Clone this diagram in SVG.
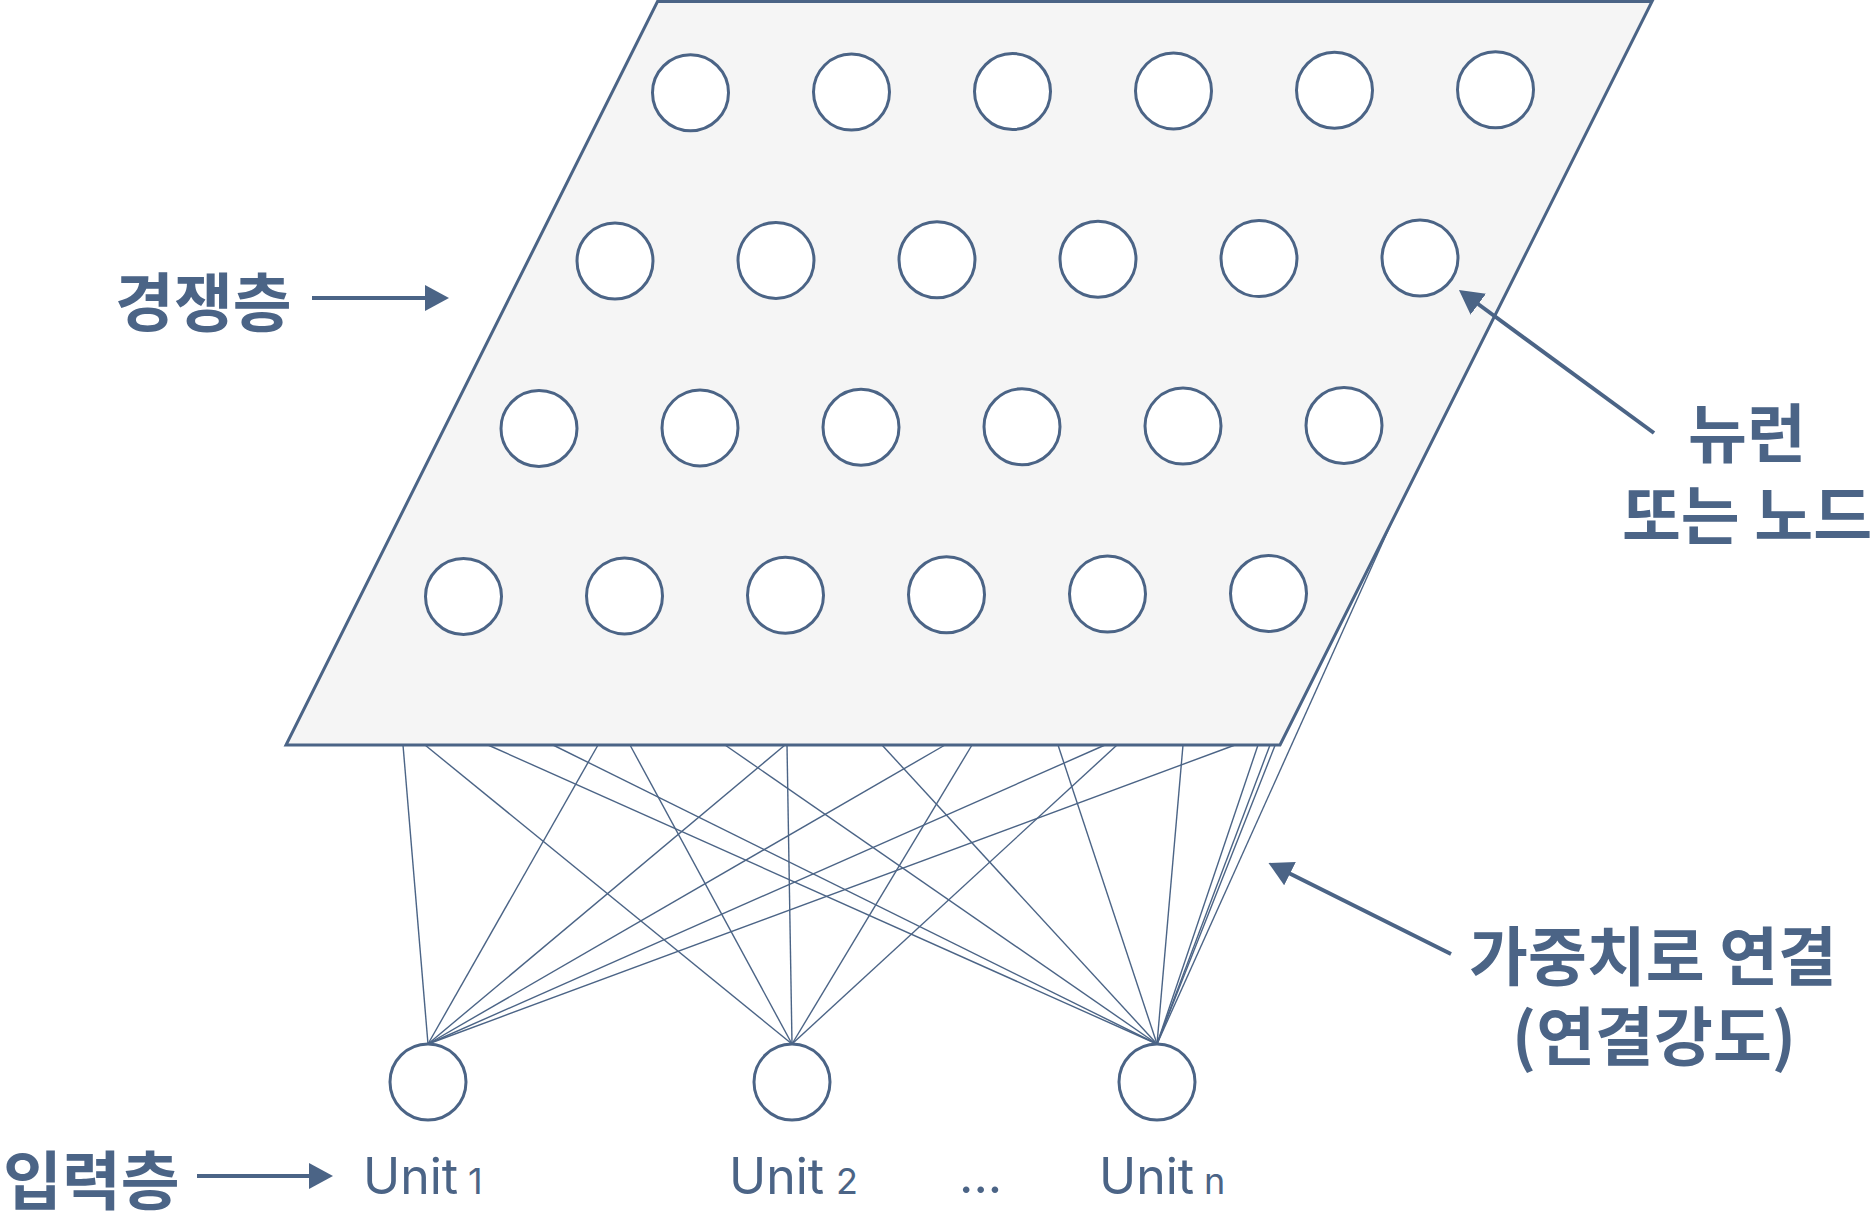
<svg xmlns="http://www.w3.org/2000/svg" width="1874" height="1217" viewBox="0 0 1874 1217">
<defs>
<style>
.ko{font-family:"Noto Sans CJK KR","Noto Sans",sans-serif;font-weight:700;font-size:64px;fill:#4b6486}
.en{font-family:Inter,"Noto Sans",sans-serif;font-weight:400;font-size:50px;fill:#4b6486}
.sub{font-size:36px}
.nd{fill:#ffffff;stroke:#4b6486;stroke-width:3}
.cn line{stroke:#4b6486;stroke-width:1.4}
.arr{stroke:#4b6486;stroke-width:4;fill:none}
</style>
<marker id="ah" markerUnits="userSpaceOnUse" viewBox="0 0 24 26" markerWidth="24" markerHeight="26" refX="2" refY="13" orient="auto"><path d="M0,0 L24,13 L0,26 z" fill="#4b6486"/></marker>
</defs>
<rect width="1874" height="1217" fill="#ffffff"/>
<g id="connectors" class="cn">
<line x1="428" y1="1044" x2="403" y2="745"/>
<line x1="428" y1="1044" x2="598" y2="745"/>
<line x1="428" y1="1044" x2="785" y2="745"/>
<line x1="428" y1="1044" x2="945" y2="745"/>
<line x1="428" y1="1044" x2="1105" y2="745"/>
<line x1="428" y1="1044" x2="1235" y2="745"/>
<line x1="792" y1="1044" x2="425" y2="745"/>
<line x1="792" y1="1044" x2="630" y2="745"/>
<line x1="792" y1="1044" x2="787" y2="745"/>
<line x1="792" y1="1044" x2="972" y2="745"/>
<line x1="792" y1="1044" x2="1117" y2="745"/>
<line x1="1157" y1="1044" x2="488" y2="745"/>
<line x1="1157" y1="1044" x2="553" y2="745"/>
<line x1="1157" y1="1044" x2="725" y2="745"/>
<line x1="1157" y1="1044" x2="882" y2="745"/>
<line x1="1157" y1="1044" x2="1058" y2="745"/>
<line x1="1157" y1="1044" x2="1183" y2="745"/>
<line x1="1157" y1="1044" x2="1258" y2="745"/>
<line x1="1157" y1="1044" x2="1270" y2="745"/>
<line x1="1157" y1="1044" x2="1293" y2="700"/>
<line x1="1157" y1="1044" x2="1395" y2="515"/>
</g>
<g id="competitive-layer">
<polygon points="657.5,1.5 1652,1.5 1280,745 286,745" fill="#f5f5f5" stroke="#4b6486" stroke-width="3" stroke-linejoin="miter"/>
</g>
<g id="neurons">
<circle class="nd" cx="690.5" cy="92.7" r="38"/>
<circle class="nd" cx="851.5" cy="92.1" r="38"/>
<circle class="nd" cx="1012.5" cy="91.5" r="38"/>
<circle class="nd" cx="1173.5" cy="90.9" r="38"/>
<circle class="nd" cx="1334.5" cy="90.3" r="38"/>
<circle class="nd" cx="1495.5" cy="89.7" r="38"/>
<circle class="nd" cx="615" cy="261" r="38"/>
<circle class="nd" cx="776" cy="260.4" r="38"/>
<circle class="nd" cx="937" cy="259.8" r="38"/>
<circle class="nd" cx="1098" cy="259.2" r="38"/>
<circle class="nd" cx="1259" cy="258.6" r="38"/>
<circle class="nd" cx="1420" cy="258" r="38"/>
<circle class="nd" cx="539" cy="428.5" r="38"/>
<circle class="nd" cx="700" cy="427.9" r="38"/>
<circle class="nd" cx="861" cy="427.3" r="38"/>
<circle class="nd" cx="1022" cy="426.7" r="38"/>
<circle class="nd" cx="1183" cy="426.1" r="38"/>
<circle class="nd" cx="1344" cy="425.5" r="38"/>
<circle class="nd" cx="463.5" cy="596.5" r="38"/>
<circle class="nd" cx="624.5" cy="595.9" r="38"/>
<circle class="nd" cx="785.5" cy="595.3" r="38"/>
<circle class="nd" cx="946.5" cy="594.7" r="38"/>
<circle class="nd" cx="1107.5" cy="594.1" r="38"/>
<circle class="nd" cx="1268.5" cy="593.5" r="38"/>
</g>
<g id="input-units">
<g id="unit1"><circle class="nd" cx="428" cy="1082" r="38"/><text class="en" x="363" y="1194">Unit<tspan class="sub" x="468">1</tspan></text></g>
<g id="unit2"><circle class="nd" cx="792" cy="1082" r="38"/><text class="en" x="729" y="1194">Unit<tspan class="sub" x="836">2</tspan></text></g>
<text id="ellipsis" class="en" x="959" y="1193">...</text>
<g id="unitn"><circle class="nd" cx="1157" cy="1082" r="38"/><text class="en" x="1099" y="1194">Unit<tspan class="sub" x="1204">n</tspan></text></g>
</g>
<g id="labels">
<g id="label-competitive"><text class="ko" x="115" y="326">경쟁층</text><line class="arr" x1="312" y1="298" x2="427" y2="298" marker-end="url(#ah)"/></g>
<g id="label-input"><text class="ko" x="3" y="1204">입력층</text><line class="arr" x1="197" y1="1176" x2="311" y2="1176" marker-end="url(#ah)"/></g>
<g id="label-neuron"><text class="ko" text-anchor="middle" x="1747" y="457">뉴런</text><text class="ko" text-anchor="middle" x="1747" y="539">또는 노드</text><line class="arr" x1="1654" y1="433" x2="1476.7" y2="303" marker-end="url(#ah)"/></g>
<g id="label-weight"><text class="ko" text-anchor="middle" x="1653" y="980">가중치로 연결</text><text class="ko" text-anchor="middle" x="1654" y="1060">(연결강도)</text><line class="arr" x1="1451" y1="954" x2="1288.2" y2="872.8" marker-end="url(#ah)"/></g>
</g>
</svg>
